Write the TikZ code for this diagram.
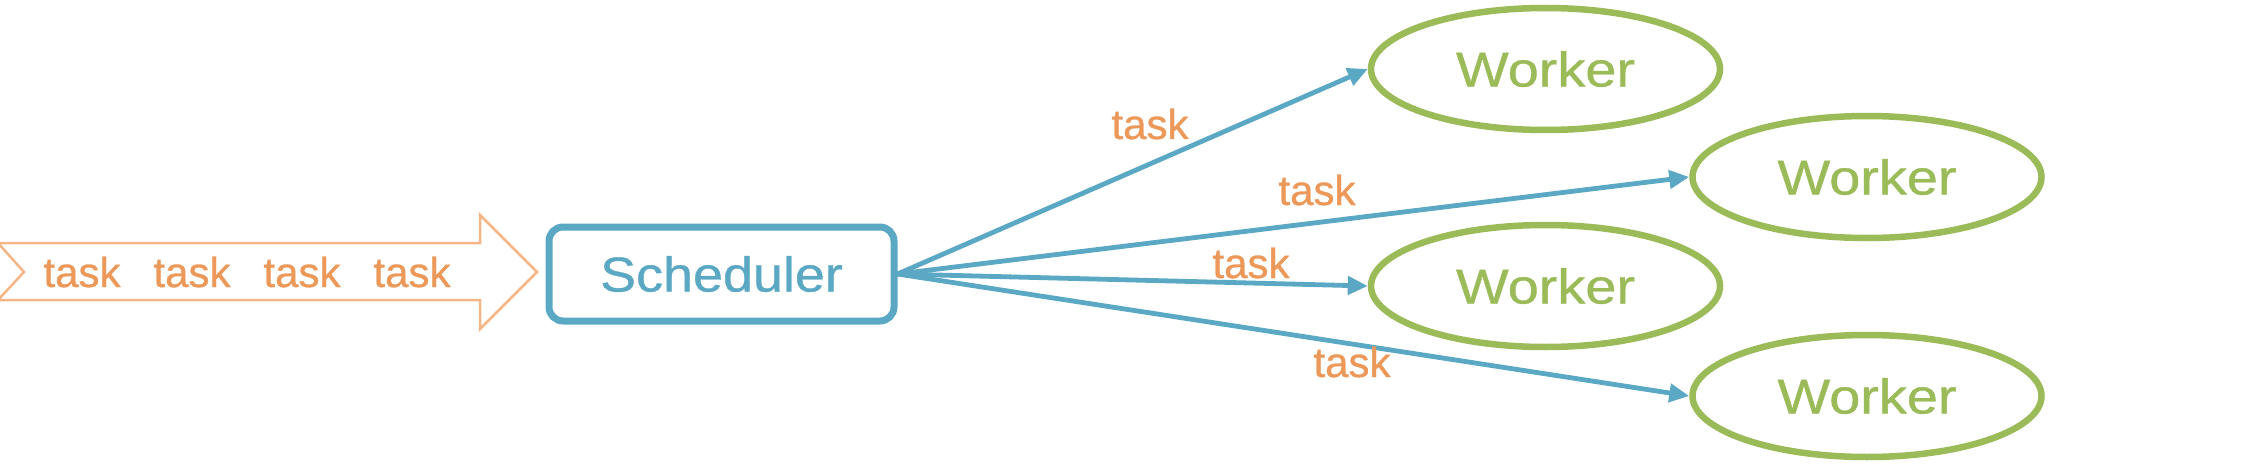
\documentclass[tikz,border=0pt]{standalone}
\usepackage{fontspec}
\usepackage{graphicx}
\setmainfont{Liberation Sans}[FakeBold=0.7]
\usetikzlibrary{shapes.geometric,arrows.meta}
\definecolor{tblue}{RGB}{90,168,196}
\definecolor{tgreen}{RGB}{155,187,89}
\definecolor{torange}{RGB}{236,152,88}
\definecolor{tlight}{RGB}{245,182,135}
\begin{document}
\begin{tikzpicture}[x=1pt,y=-1pt,
  lbl/.style={text=torange,font=\fontsize{42}{50}\selectfont,inner sep=0pt,anchor=base},
  schedbox/.style={draw=tblue,line width=7pt,rounded corners=14pt,minimum width=345pt,minimum height=94pt,inner sep=0pt,text=tblue,font=\fontsize{49}{58}\selectfont},
  worker/.style={ellipse,draw=tgreen,line width=6.5pt,minimum width=349pt,minimum height=122pt,inner sep=0pt,text=tgreen,font=\fontsize{49}{58}\selectfont},
  flow/.style={draw=tblue,line width=4.8pt,-{Triangle[length=20pt,width=18pt]}},
  bigarrow/.style={draw=tlight,line width=2.5pt,line join=miter}
]
\useasboundingbox (0,0) rectangle (2264,476);
% input arrow
\draw[bigarrow] (-2,243) -- (480,243) -- (480,215) -- (537,272) -- (480,329) -- (480,300) -- (-2,300) -- (24,272) -- cycle;
\node[lbl] (in1) at (82,287) {task};
\node[lbl] (in2) at (192,287) {task};
\node[lbl] (in3) at (302,287) {task};
\node[lbl] (in4) at (412,287) {task};
% scheduler
\node[schedbox] (sched) at (721.5,274) {\scalebox{1.1}[1]{Scheduler}};
% workers
\node[worker] (w1) at (1545.5,69) {\scalebox{1.14}[1]{Worker}};
\node[worker] (w2) at (1867,177) {\scalebox{1.14}[1]{Worker}};
\node[worker] (w3) at (1545.5,286) {\scalebox{1.14}[1]{Worker}};
\node[worker] (w4) at (1867,396) {\scalebox{1.14}[1]{Worker}};
% connectors
\draw[flow] (sched.east) -- (w1.west);
\draw[flow] (sched.east) -- (w2.west);
\draw[flow] (sched.east) -- (w3.west);
\draw[flow] (sched.east) -- (w4.west);
% labels
\node[lbl] (t1) at (1150,139) {task};
\node[lbl] (t2) at (1317,205) {task};
\node[lbl] (t3) at (1251,278) {task};
\node[lbl] (t4) at (1352,377) {task};
\end{tikzpicture}
\end{document}
